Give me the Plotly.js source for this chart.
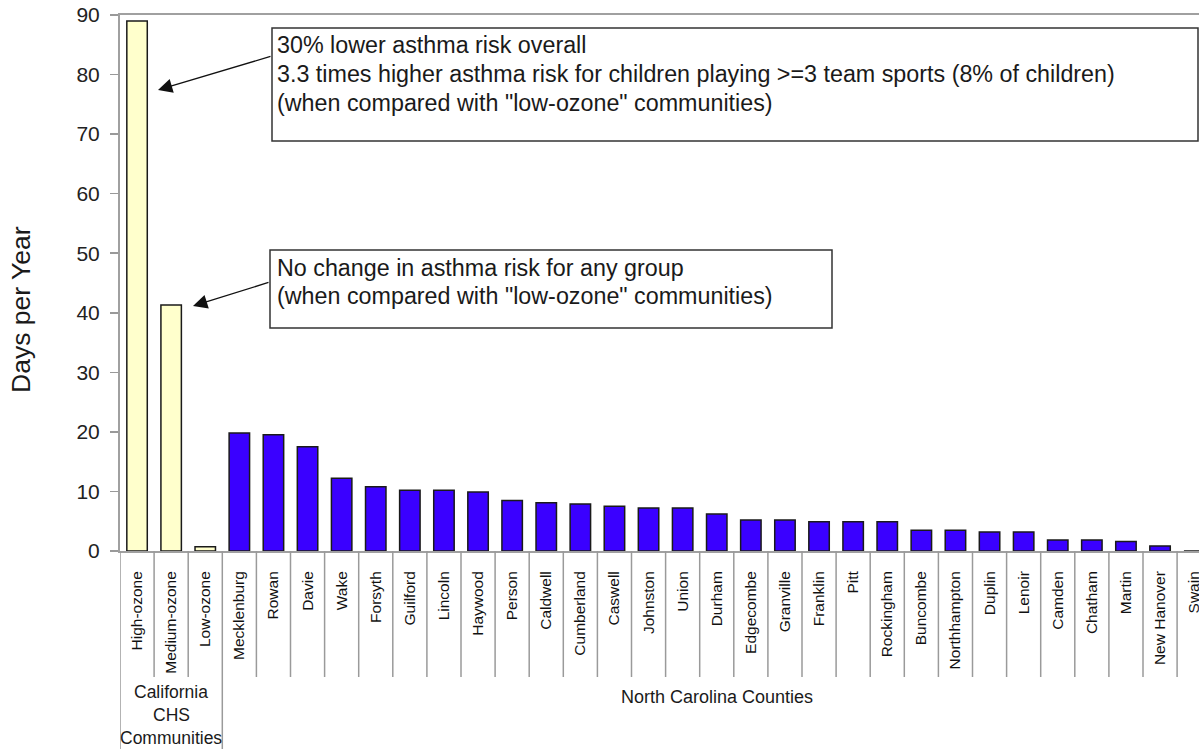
<!DOCTYPE html>
<html>
<head>
<meta charset="utf-8">
<script src="https://cdn.plot.ly/plotly-3.0.1.min.js"></script>
<style>
html, body { margin: 0; padding: 0; background: #fff; overflow: hidden; }
#chart { width: 1199px; height: 749px; }
</style>
</head>
<body>
<div id="chart"></div>
<script>
// ---- data ----
const caCategories = ["High-ozone", "Medium-ozone", "Low-ozone"];
const caValues = [89.0, 41.3, 0.7];

const ncCategories = ["Mecklenburg", "Rowan", "Davie", "Wake", "Forsyth", "Guilford", "Lincoln",
  "Haywood", "Person", "Caldwell", "Cumberland", "Caswell", "Johnston", "Union", "Durham",
  "Edgecombe", "Granville", "Franklin", "Pitt", "Rockingham", "Buncombe", "Northhampton",
  "Duplin", "Lenoir", "Camden", "Chatham", "Martin", "New Hanover", "Swain"];
const ncValues = [19.8, 19.5, 17.5, 12.2, 10.8, 10.2, 10.2,
  9.9, 8.5, 8.1, 7.9, 7.5, 7.2, 7.2, 6.2,
  5.2, 5.2, 4.9, 4.9, 4.9, 3.5, 3.5,
  3.2, 3.2, 1.85, 1.85, 1.6, 0.85, 0];

const groupLabels = ["California CHS Communities", "North Carolina Counties"];
const yTickValues = [0, 10, 20, 30, 40, 50, 60, 70, 80, 90];
const yTitle = "Days per Year";
const note1 = ["30% lower asthma risk overall",
  "3.3 times higher asthma risk for children playing >=3 team sports (8% of children)",
  "(when compared with \"low-ozone\" communities)"];
const note2 = ["No change in asthma risk for any group",
  "(when compared with \"low-ozone\" communities)"];

// ---- layout helpers (pixel -> paper) ----
const W = 1199, H = 749;
const L = 120, R = 0, T = 15, B = 198;
const pw = W - L - R, ph = H - T - B;
const px = x => (x - L) / pw;
const py = y => (H - B - y) / ph;

const allCats = caCategories.concat(ncCategories);
const FONT = "Liberation Sans, Arial, sans-serif";

const traces = [
  { type: "bar", x: caCategories, y: caValues, width: 0.6,
    marker: { color: "#ffffcc", line: { color: "#1a1a1a", width: 1.5 } },
    hoverinfo: "x+y" },
  { type: "bar", x: ncCategories, y: ncValues, width: 0.6,
    marker: { color: "#3a00ff", line: { color: "#1a1a1a", width: 1.5 } },
    hoverinfo: "x+y" }
];

const shapes = [];
// category separators below the axis
for (let k = 0; k < allCats.length; k++) {
  const b = k - 0.5;
  const longLine = (k === 0 || k === caCategories.length);
  shapes.push({ type: "line", xref: "x", yref: "paper", x0: b, x1: b,
    y0: 0, y1: longLine ? py(749) : py(677),
    line: { color: "#9a9a9a", width: 1.5 } });
}
// annotation boxes
shapes.push({ type: "rect", xref: "paper", yref: "paper",
  x0: px(272), x1: px(1198), y0: py(141), y1: py(28),
  line: { color: "#333", width: 1.5 }, fillcolor: "#fff", layer: "above" });
shapes.push({ type: "rect", xref: "paper", yref: "paper",
  x0: px(270), x1: px(832), y0: py(328), y1: py(250),
  line: { color: "#333", width: 1.5 }, fillcolor: "#fff", layer: "above" });

const annotations = [];
const txtFont = { family: FONT, size: 23.3, color: "#1a1a1a" };
[45, 74, 103].forEach((yy, i) => annotations.push({
  xref: "paper", yref: "paper", x: px(275), y: py(yy), xanchor: "left", yanchor: "middle",
  text: note1[i], showarrow: false, font: txtFont }));
[268, 296].forEach((yy, i) => annotations.push({
  xref: "paper", yref: "paper", x: px(275), y: py(yy), xanchor: "left", yanchor: "middle",
  text: note2[i], showarrow: false, font: txtFont }));
// arrows
annotations.push({ xref: "paper", yref: "paper", x: px(158), y: py(90), ax: 114, ay: -34,
  text: "", showarrow: true, arrowhead: 2, arrowsize: 2.2, arrowwidth: 1.3, arrowcolor: "#111", standoff: 0 });
annotations.push({ xref: "paper", yref: "paper", x: px(193), y: py(306), ax: 77, ay: -24,
  text: "", showarrow: true, arrowhead: 2, arrowsize: 2.2, arrowwidth: 1.3, arrowcolor: "#111", standoff: 0 });
// y title
annotations.push({ xref: "paper", yref: "paper", x: px(21), y: py(310), textangle: -90,
  xanchor: "center", yanchor: "middle", text: yTitle, showarrow: false,
  font: { family: FONT, size: 26.5, color: "#1a1a1a" } });
// group labels
const caLines = ["California", "CHS", "Communities"];
[692, 715, 738].forEach((yy, i) => annotations.push({
  xref: "x", yref: "paper", x: 1, y: py(yy), xanchor: "center", yanchor: "middle",
  text: caLines[i], showarrow: false, font: { family: FONT, size: 17.5, color: "#1a1a1a" } }));
annotations.push({ xref: "paper", yref: "paper", x: px(717), y: py(697),
  xanchor: "center", yanchor: "middle", text: groupLabels[1], showarrow: false,
  font: { family: FONT, size: 18, color: "#1a1a1a" } });

const layout = {
  width: W, height: H,
  margin: { l: L, r: R, t: T, b: B, pad: 0 },
  paper_bgcolor: "#fff", plot_bgcolor: "#fff",
  showlegend: false,
  barmode: "overlay",
  font: { family: FONT, color: "#1a1a1a" },
  xaxis: {
    type: "category", categoryorder: "array", categoryarray: allCats,
    range: [-0.5, (W - L) / ((1160 - 137) / 30) - 0.5],
    tickangle: -90, ticks: "", showgrid: false, zeroline: false,
    showline: true, mirror: true, linecolor: "#a0a0a0", linewidth: 2,
    tickfont: { family: FONT, size: 15.5, color: "#111" },
    ticklabelstandoff: 12
  },
  yaxis: {
    range: [0, 90], tickvals: yTickValues, ticks: "outside", ticklen: 8, tickwidth: 1.5,
    tickcolor: "#999", showline: true, linecolor: "#a0a0a0", linewidth: 2,
    showgrid: false, zeroline: false,
    tickfont: { family: FONT, size: 21, color: "#222" },
    ticklabelstandoff: 6
  },
  shapes: shapes,
  annotations: annotations
};

Plotly.newPlot("chart", traces, layout, { displayModeBar: false, staticPlot: true });
</script>
</body>
</html>
